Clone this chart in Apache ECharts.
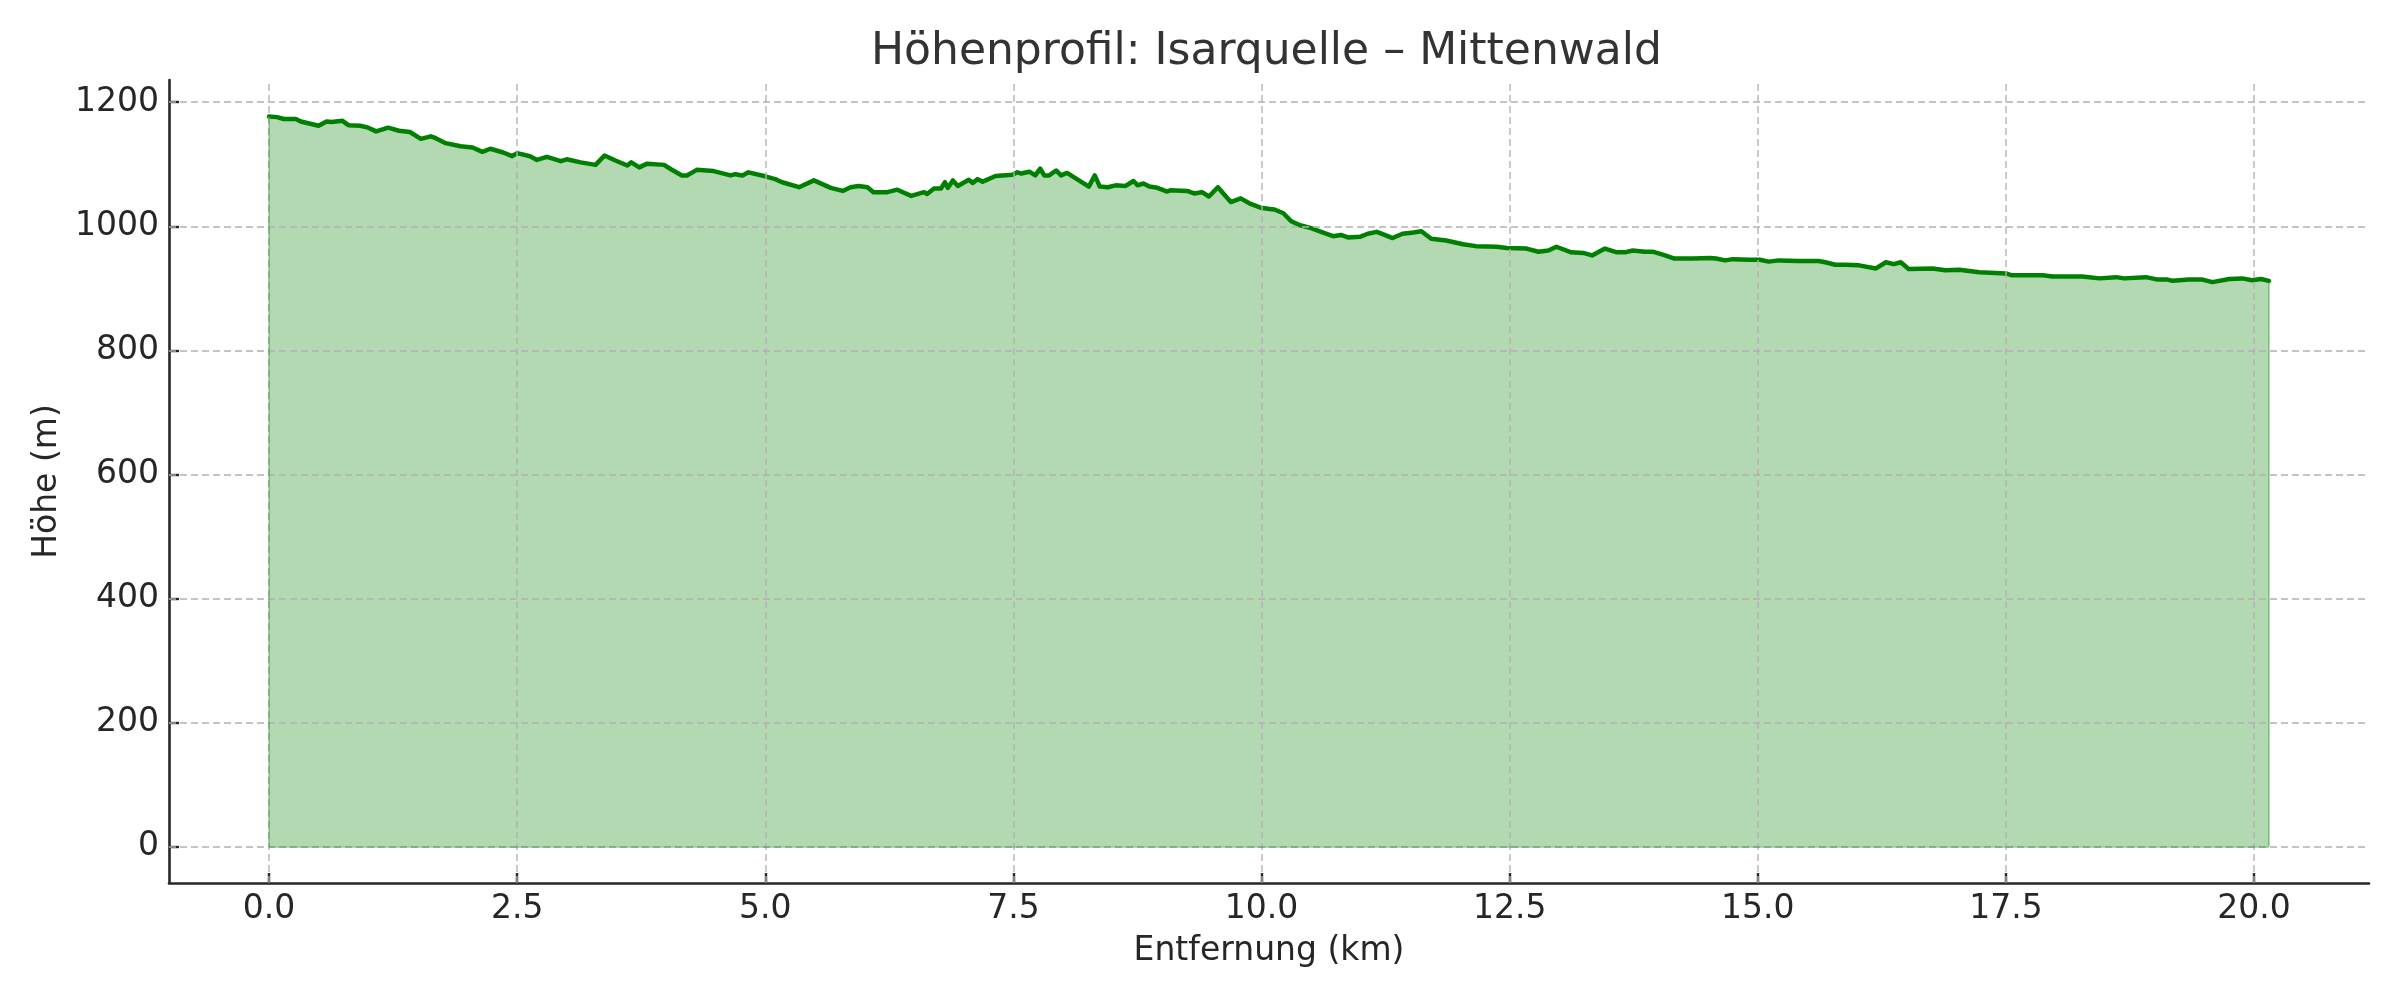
<!DOCTYPE html>
<html>
<head>
<meta charset="utf-8">
<title>Höhenprofil: Isarquelle – Mittenwald</title>
<script src="https://cdn.jsdelivr.net/npm/echarts@6/dist/echarts.min.js"></script>
<style>
  html, body { margin: 0; padding: 0; background: #ffffff; }
  #chart { width: 2400px; height: 1000px; }
</style>
</head>
<body>
<div id="chart"></div>
<script>
// Distance along the route (km)
var distanceKm = [
  0.00, 0.08, 0.15, 0.27, 0.32, 0.50, 0.58, 0.63, 0.74, 0.80, 0.92, 1.00, 1.08, 1.20, 1.31, 1.42,
  1.53, 1.63, 1.68, 1.78, 1.93, 2.05, 2.15, 2.23, 2.36, 2.45, 2.50, 2.63, 2.70, 2.80, 2.94, 3.00,
  3.14, 3.29, 3.38, 3.49, 3.61, 3.65, 3.73, 3.81, 3.98, 4.05, 4.16, 4.21, 4.31, 4.48, 4.65, 4.70,
  4.77, 4.83, 4.99, 5.10, 5.17, 5.34, 5.49, 5.66, 5.78, 5.86, 5.94, 6.03, 6.09, 6.23, 6.33, 6.47,
  6.60, 6.63, 6.70, 6.77, 6.81, 6.84, 6.89, 6.94, 7.05, 7.09, 7.14, 7.19, 7.32, 7.49, 7.54, 7.58,
  7.66, 7.72, 7.77, 7.81, 7.86, 7.93, 7.98, 8.04, 8.26, 8.32, 8.37, 8.45, 8.53, 8.63, 8.71, 8.75,
  8.81, 8.87, 8.95, 9.05, 9.08, 9.25, 9.32, 9.40, 9.47, 9.56, 9.69, 9.79, 9.89, 9.99, 10.08, 10.13,
  10.22, 10.30, 10.38, 10.50, 10.60, 10.72, 10.80, 10.87, 10.99, 11.07, 11.16, 11.24, 11.32, 11.42, 11.53, 11.61,
  11.71, 11.86, 12.03, 12.16, 12.37, 12.47, 12.67, 12.79, 12.89, 12.97, 13.12, 13.24, 13.33, 13.46, 13.58, 13.66,
  13.74, 13.86, 13.94, 14.05, 14.16, 14.35, 14.52, 14.58, 14.67, 14.75, 14.92, 15.02, 15.11, 15.21, 15.41, 15.61,
  15.68, 15.78, 15.88, 16.02, 16.19, 16.29, 16.37, 16.44, 16.52, 16.76, 16.89, 17.03, 17.23, 17.50, 17.56, 17.87,
  17.97, 18.27, 18.44, 18.61, 18.69, 18.91, 19.03, 19.13, 19.18, 19.34, 19.48, 19.58, 19.75, 19.88, 19.98, 20.07,
  20.15
];
// Elevation (m)
var elevationM = [
  1177, 1176, 1173, 1173, 1169, 1162, 1169, 1168, 1170, 1163, 1162, 1159, 1153, 1159, 1154, 1152,
  1141, 1145, 1142, 1134, 1129, 1127, 1120, 1125, 1119, 1113, 1118, 1113, 1107, 1112, 1105, 1108,
  1103, 1099, 1114, 1106, 1098, 1103, 1095, 1101, 1099, 1092, 1082, 1082, 1091, 1089, 1082, 1084,
  1082, 1087, 1081, 1076, 1071, 1063, 1074, 1062, 1057, 1063, 1065, 1063, 1055, 1055, 1059, 1049,
  1055, 1052, 1061, 1061, 1071, 1062, 1074, 1065, 1075, 1070, 1076, 1072, 1081, 1083, 1087, 1085,
  1088, 1082, 1093, 1082, 1082, 1090, 1082, 1086, 1064, 1082, 1064, 1063, 1066, 1065, 1073, 1066,
  1069, 1064, 1062, 1056, 1058, 1057, 1053, 1055, 1048, 1063, 1039, 1045, 1036, 1030, 1028, 1027,
  1021, 1008, 1002, 997, 991, 984, 986, 982, 983, 988, 991, 986, 981, 988, 990, 992,
  980, 977, 971, 968, 967, 965, 964, 959, 961, 967, 958, 957, 953, 964, 958, 958,
  961, 959, 959, 954, 948, 948, 949, 948, 945, 947, 946, 946, 943, 945, 944, 944,
  942, 938, 938, 937, 932, 942, 939, 942, 931, 932, 929, 930, 926, 924, 921, 921,
  919, 919, 916, 918, 916, 918, 914, 914, 912, 914, 914, 910, 915, 916, 913, 915,
  912
];
var xTicks = [0, 2.5, 5, 7.5, 10, 12.5, 15, 17.5, 20];
var yTicks = [0, 200, 400, 600, 800, 1000, 1200];

var titleText = 'Höhenprofil: Isarquelle – Mittenwald';
var xName = 'Entfernung (km)';
var yName = 'Höhe (m)';

var points = distanceKm.map(function (d, i) { return [d, elevationM[i]]; });
var dFirst = distanceKm[0], dLast = distanceKm[distanceKm.length - 1];
var eMax = Math.max.apply(null, elevationM);
var xMin = dFirst - 0.05 * (dLast - dFirst), xMax = dLast + 0.05 * (dLast - dFirst);
var yMin = -0.05 * eMax, yMax = 1.05 * eMax;

var FONT = 'DejaVu Sans';
var INK = '#262626';

var gridLineStyle = { type: [7, 4], color: 'rgba(176,176,176,0.75)', width: 1.8 };
var edgeStyle = { type: 'solid', color: 'rgba(0,128,0,0.3)', width: 2 };
var markData = xTicks.map(function (v) { return { xAxis: v }; })
  .concat(yTicks.map(function (v) { return { yAxis: v }; }))
  .concat([
    [{ coord: [dFirst, 0], lineStyle: edgeStyle }, { coord: [dFirst, elevationM[0]] }],
    [{ coord: [dFirst, 0], lineStyle: edgeStyle }, { coord: [dLast, 0] }],
    [{ coord: [dLast, 0], lineStyle: edgeStyle }, { coord: [dLast, elevationM[elevationM.length - 1]] }]
  ]);

var chart = echarts.init(document.getElementById('chart'), null, { renderer: 'canvas' });
chart.setOption({
  animation: false,
  backgroundColor: '#ffffff',
  title: {
    text: titleText,
    left: 871,
    top: 31,
    padding: 0,
    textStyle: { fontFamily: FONT, fontSize: 44, fontWeight: 'normal', color: '#333333' }
  },
  grid: { left: 169, right: 31, top: 80, bottom: 117, containLabel: false },
  xAxis: {
    type: 'value',
    min: xMin,
    max: xMax,
    name: xName,
    nameLocation: 'middle',
    nameGap: 52,
    nameTextStyle: { fontFamily: FONT, fontSize: 33, color: INK },
    axisLine: { show: true, onZero: false, lineStyle: { color: INK, width: 2.6 } },
    axisTick: { show: true, inside: true, length: 10, customValues: xTicks, lineStyle: { color: INK, width: 2.4 } },
    axisLabel: {
      customValues: xTicks, margin: 10, fontFamily: FONT, fontSize: 33, color: INK,
      formatter: function (v) { return v.toFixed(1); }
    },
    splitLine: { show: false }
  },
  yAxis: {
    type: 'value',
    min: yMin,
    max: yMax,
    name: yName,
    nameLocation: 'middle',
    nameGap: 105,
    nameTextStyle: { fontFamily: FONT, fontSize: 33, color: INK },
    axisLine: { show: true, onZero: false, lineStyle: { color: INK, width: 2.6 } },
    axisTick: { show: true, inside: true, length: 10, customValues: yTicks, lineStyle: { color: INK, width: 2.4 } },
    axisLabel: {
      customValues: yTicks, margin: 10, fontFamily: FONT, fontSize: 33, color: INK,
      formatter: function (v) { return String(Math.round(v)); }
    },
    splitLine: { show: false }
  },
  series: [
    {
      name: 'Fläche',
      type: 'line',
      data: points,
      z: 1,
      symbol: 'none',
      silent: true,
      lineStyle: { width: 0, opacity: 0 },
      areaStyle: { color: 'rgba(0,128,0,0.3)', opacity: 1, origin: 'auto' },
      markLine: {
        silent: true,
        symbol: ['none', 'none'],
        label: { show: false },
        emphasis: { disabled: true },
        lineStyle: gridLineStyle,
        data: markData
      }
    },
    {
      name: 'Höhe',
      type: 'line',
      data: points,
      z: 3,
      symbol: 'none',
      lineStyle: { color: '#008000', width: 4.5, join: 'round', cap: 'round' }
    }
  ]
});
</script>
</body>
</html>
